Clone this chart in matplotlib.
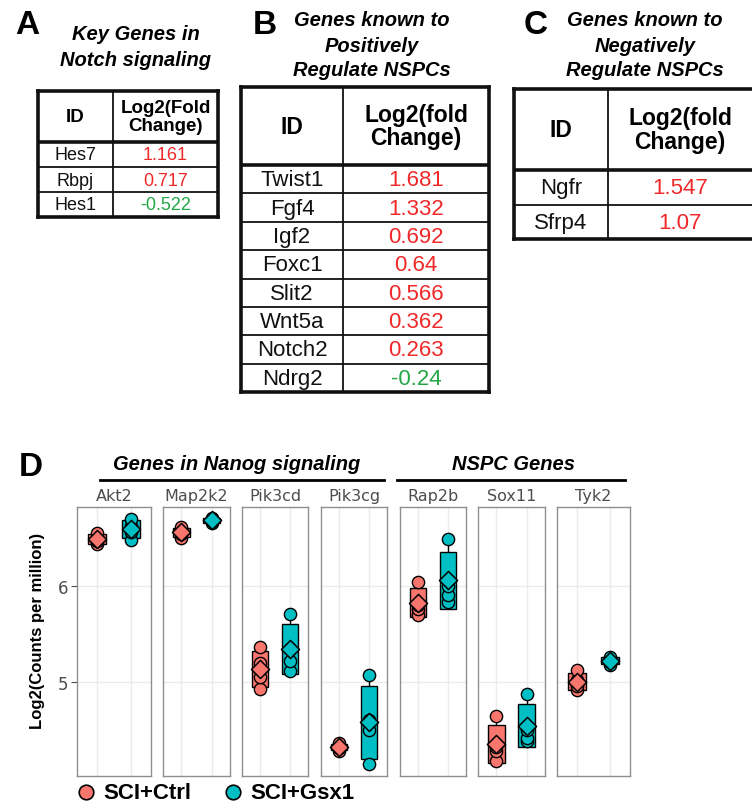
import matplotlib
matplotlib.use("Agg")
import matplotlib.pyplot as plt
import numpy as np

# ---------------- data ----------------
tableA_ids = ["Hes7", "Rbpj", "Hes1"]
tableA_vals = [1.161, 0.717, -0.522]
tableB_ids = ["Twist1", "Fgf4", "Igf2", "Foxc1", "Slit2", "Wnt5a", "Notch2", "Ndrg2"]
tableB_vals = [1.681, 1.332, 0.692, 0.64, 0.566, 0.362, 0.263, -0.24]
tableC_ids = ["Ngfr", "Sfrp4"]
tableC_vals = [1.547, 1.07]

genes = ["Akt2", "Map2k2", "Pik3cd", "Pik3cg", "Rap2b", "Sox11", "Tyk2"]
ctrl_vals = [
    [6.43, 6.47, 6.50, 6.55],
    [6.50, 6.54, 6.57, 6.61],
    [4.93, 5.05, 5.20, 5.36],
    [4.28, 4.31, 4.33, 4.36],
    [5.70, 5.76, 5.80, 6.04],
    [4.18, 4.28, 4.32, 4.64],
    [4.91, 4.96, 5.02, 5.12],
]
gsx1_vals = [
    [6.48, 6.56, 6.62, 6.70],
    [6.65, 6.67, 6.69, 6.71],
    [5.11, 5.22, 5.34, 5.71],
    [4.15, 4.50, 4.60, 5.07],
    [5.83, 5.90, 6.00, 6.49],
    [4.38, 4.42, 4.50, 4.87],
    [5.18, 5.21, 5.23, 5.26],
]
groups = ["SCI+Ctrl", "SCI+Gsx1"]
group_colors = ["#F8766D", "#00BFC4"]
yticks = [5, 6]

# ---------------- layout ----------------
W, H = 752, 803
fig = plt.figure(figsize=(W / 100, H / 100), dpi=100)
bg = fig.add_axes([0, 0, 1, 1])
bg.set_xlim(0, W)
bg.set_ylim(H, 0)
bg.axis("off")

SANS = "Liberation Sans"
RED = "#f02828"
GREEN = "#22a845"


def fmt(v):
    return f"{v:g}"


def panel_letter(x, y, s):
    bg.text(x, y, s, fontsize=24, fontweight="bold", family=SANS,
            ha="center", va="center")


def title(x, ys, lines, fs=14.5):
    for yy, ln in zip(ys, lines):
        bg.text(x, yy, ln, fontsize=fs, fontweight="bold", style="italic",
                family=SANS, ha="center", va="center")


def draw_table(x0, xm, x1, ytop, yhead, ybot, ids, vals, head, fs_h, fs_r,
               head_x=None, right_border=True):
    n = len(ids)
    edges = np.linspace(yhead, ybot, n + 1)
    lw_o, lw_i = 2.6, 1.3
    col = "#111111"
    for e in edges[1:-1]:
        bg.plot([x0, x1], [e, e], color=col, lw=lw_i, solid_capstyle="butt")
    bg.plot([x0, x1], [yhead, yhead], color=col, lw=lw_o, solid_capstyle="butt")
    bg.plot([xm, xm], [ytop, ybot], color=col, lw=lw_i, solid_capstyle="butt")
    bg.plot([x0, x1], [ytop, ytop], color=col, lw=lw_o, solid_capstyle="projecting")
    bg.plot([x0, x1], [ybot, ybot], color=col, lw=lw_o, solid_capstyle="projecting")
    bg.plot([x0, x0], [ytop, ybot], color=col, lw=lw_o, solid_capstyle="projecting")
    if right_border:
        bg.plot([x1, x1], [ytop, ybot], color=col, lw=lw_o, solid_capstyle="projecting")
    hy = (ytop + yhead) / 2
    bg.text((x0 + xm) / 2, hy, "ID", fontsize=fs_h, fontweight="bold",
            family=SANS, ha="center", va="center")
    xr = head_x if head_x else (xm + x1) / 2
    bg.text(xr, hy, head, fontsize=fs_h, fontweight="bold", family=SANS,
            ha="center", va="center", linespacing=1.05)
    for i, (g, v) in enumerate(zip(ids, vals)):
        cy = (edges[i] + edges[i + 1]) / 2 + 0.5
        bg.text((x0 + xm) / 2, cy, g, fontsize=fs_r, family=SANS,
                ha="center", va="center", color="#111111")
        bg.text(xr, cy, fmt(v), fontsize=fs_r, family=SANS,
                ha="center", va="center", color=RED if v > 0 else GREEN)


# Panel A
panel_letter(27, 26, "A")
title(136, [35, 61], ["Key Genes in", "Notch signaling"])
draw_table(38, 113, 218, 92, 143, 218, tableA_ids, tableA_vals,
           "Log2(Fold\nChange)", 13.5, 13)

# Panel B
panel_letter(265, 25, "B")
title(372, [21, 46, 71], ["Genes known to", "Positively", "Regulate NSPCs"])
draw_table(241, 343, 489, 88, 166, 393, tableB_ids, tableB_vals,
           "Log2(fold\nChange)", 16.5, 16)

# Panel C
panel_letter(536, 25, "C")
title(645, [21, 46, 71], ["Genes known to", "Negatively", "Regulate NSPCs"])
draw_table(514, 608, 752, 90, 171, 240, tableC_ids, tableC_vals,
           "Log2(fold\nChange)", 16.5, 16, head_x=680, right_border=False)

# ---------------- Panel D ----------------
panel_letter(31, 468, "D")
panel_x = [(77, 151), (163, 230), (242, 308), (321, 387),
           (400, 466), (478, 545), (557, 630)]
ptop, pbot = 508, 777
ylim = (4.02, 6.82)
GRID = "#ebebeb"
SPINE = "#8f8f8f"
BOXW = 0.55
for k, (gname, (xa, xb)) in enumerate(zip(genes, panel_x)):
    ax = fig.add_axes([xa / W, 1 - pbot / H, (xb - xa) / W, (pbot - ptop) / H])
    ax.set_xlim(0.4, 2.6)
    ax.set_ylim(*ylim)
    for yy in yticks:
        ax.axhline(yy, color=GRID, lw=1, zorder=0)
    for xx in (1, 2):
        ax.axvline(xx, color=GRID, lw=1, zorder=0)
    data = [ctrl_vals[k], gsx1_vals[k]]
    for j, (vals, c) in enumerate(zip(data, group_colors)):
        vals = np.asarray(vals)
        m, sd = vals.mean(), vals.std(ddof=1)
        pos = j + 1
        ax.vlines(pos, vals.min(), vals.max(), color="black", lw=1, zorder=1)
        ax.bar(pos, 2 * sd, bottom=m - sd, width=BOXW, color=c,
               edgecolor="black", lw=1, zorder=2)
        ax.scatter([pos] * len(vals), vals, s=78, color=c,
                   edgecolor="black", lw=1, zorder=3)
        ax.scatter([pos], [m], marker="D", s=85, color=c,
                   edgecolor="black", lw=1.1, zorder=4)
    for sp in ax.spines.values():
        sp.set_color(SPINE)
        sp.set_linewidth(1)
    ax.set_xticks([])
    if k == 0:
        ax.set_yticks(yticks)
        ax.set_yticklabels([str(t) for t in yticks], fontsize=12,
                           color="#4d4d4d", family="DejaVu Sans")
        ax.tick_params(axis="y", length=4, color="#4d4d4d", pad=2)
    else:
        ax.set_yticks([])
    bg.text((xa + xb) / 2, 497, gname, fontsize=11.5, color="#4d4d4d",
            family="DejaVu Sans", ha="center", va="center")

bg.text(38, 631, "Log2(Counts per million)", rotation=90, fontsize=12,
        fontweight="bold", family=SANS, ha="center", va="center")

# group headers
bg.text(237, 465, "Genes in Nanog signaling", fontsize=14.5, fontweight="bold",
        style="italic", family=SANS, ha="center", va="center")
bg.plot([100, 384], [481, 481], color="black", lw=2)
bg.text(514, 465, "NSPC Genes", fontsize=14.5, fontweight="bold",
        style="italic", family=SANS, ha="center", va="center")
bg.plot([397, 625], [481, 481], color="black", lw=2)

# legend
for (lx, tx), lab, c in zip([(86, 103), (233, 250)], groups, group_colors):
    bg.scatter([lx], [793], s=110, color=c, edgecolor="black", lw=1.2)
    bg.text(tx, 794, lab, fontsize=16, fontweight="bold", family=SANS,
            ha="left", va="center")

fig.savefig("out.png", dpi=100)
